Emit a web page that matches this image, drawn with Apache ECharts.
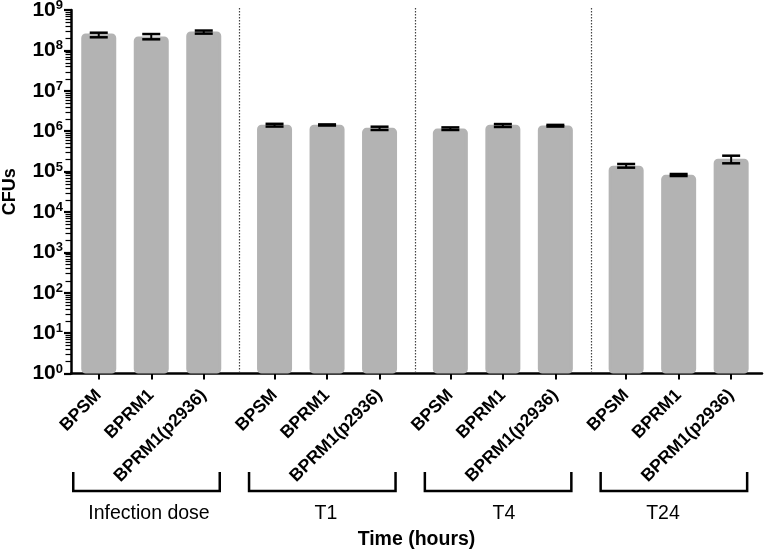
<!DOCTYPE html>
<html><head><meta charset="utf-8">
<script src="https://cdn.jsdelivr.net/npm/echarts@6/dist/echarts.min.js"></script>
<style>html,body{margin:0;padding:0;background:#fff}#c{width:764px;height:554px}</style>
</head><body><div id="c"></div>
<script>
// ---- data ----
const strains = ['BPSM', 'BPRM1', 'BPRM1(p2936)'];
const groupNames = ['Infection dose', 'T1', 'T4', 'T24'];
const xTitle = 'Time (hours)';
const yTitle = 'CFUs';
const yMin = 1, yMax = 1e9;
const yDecades = [1, 10, 100, 1e3, 1e4, 1e5, 1e6, 1e7, 1e8];
const minorMultipliers = [2, 3, 4, 5, 6, 7, 8, 9];

const meanDose = [2.62e8, 2.21e8, 2.93e8];
const lowDose  = [2.11e8, 1.88e8, 2.60e8];
const highDose = [2.74e8, 2.54e8, 3.10e8];

const meanT1 = [1.44e6, 1.44e6, 1.21e6];
const lowT1  = [1.30e6, 1.38e6, 1.07e6];
const highT1 = [1.52e6, 1.47e6, 1.29e6];

const meanT4 = [1.16e6, 1.44e6, 1.38e6];
const lowT4  = [1.07e6, 1.27e6, 1.30e6];
const highT4 = [1.24e6, 1.50e6, 1.43e6];

const meanT24 = [1.39e5, 8.3e4, 2.07e5];
const lowT24  = [1.25e5, 7.76e4, 1.60e5];
const highT24 = [1.54e5, 8.7e4, 2.47e5];

const groupMeans = [meanDose, meanT1, meanT4, meanT24];
const groupLows = [lowDose, lowT1, lowT4, lowT24];
const groupHighs = [highDose, highT1, highT4, highT24];

// ---- layout ----
const FONT = '"Liberation Sans", Arial, Helvetica, sans-serif';
const PLOT_TOP = 10, PLOT_H = 363.5, FRAME_LEFT = 71, FRAME_W = 691;
const GRID_LEFT0 = 72.5, GRID_STEP = 175.8, GRID_W = 157.5;
const groupLabelX = [149, 326, 504, 663];
const BAR_COLOR = '#b3b3b3';

const chart = echarts.init(document.getElementById('c'), null, {renderer: 'canvas'});

const grids = [{left: FRAME_LEFT, top: PLOT_TOP, width: FRAME_W, height: PLOT_H, containLabel: false, outerBoundsMode: 'none'}];
const xAxes = [{
  gridIndex: 0, type: 'value', min: 0, max: 1,
  name: xTitle, nameLocation: 'middle', nameGap: 156,
  nameTextStyle: {fontFamily: FONT, fontWeight: 'bold', fontSize: 19.5, color: '#000'},
  axisLine: {show: true, lineStyle: {color: '#000', width: 2.5}},
  axisTick: {show: false}, axisLabel: {show: false}, splitLine: {show: false}
}];
const yAxes = [{
  gridIndex: 0, type: 'log', logBase: 10, min: yMin, max: yMax, splitNumber: 9,
  name: yTitle, nameLocation: 'middle', nameRotate: 90, nameGap: 52,
  nameTextStyle: {fontFamily: FONT, fontWeight: 'bold', fontSize: 18, color: '#000'},
  axisLine: {show: true, lineStyle: {color: '#000', width: 2.5}},
  axisTick: {show: true, length: 7, lineStyle: {color: '#000', width: 2.2}},
  splitLine: {show: false},
  axisLabel: {
    margin: 8, color: '#000',
    formatter: function (v) { return '{a|10}{b|' + Math.round(Math.log10(v)) + '}'; },
    rich: {
      a: {fontFamily: FONT, fontWeight: 'bold', fontSize: 21, color: '#000', lineHeight: 22},
      b: {fontFamily: FONT, fontWeight: 'bold', fontSize: 13, color: '#000', lineHeight: 13, verticalAlign: 'top'}
    }
  }
}];
const series = [];

// minor ticks of the log axis (2..9 x each decade), placed through the log scale
series.push({
  type: 'custom', xAxisIndex: 0, yAxisIndex: 0, silent: true, z: 5,
  data: yDecades.flatMap(function (d) { return minorMultipliers.map(function (m) { return [0, d * m]; }); }),
  renderItem: function (params, api) {
    const p = api.coord([0, api.value(1)]);
    const y = Math.round(p[1]) + 0.5;
    return {type: 'line', shape: {x1: p[0] - 5.5, y1: y, x2: p[0], y2: y}, style: {stroke: '#000', lineWidth: 1.2}};
  }
});

function renderErr(params, api) {
  const c = api.value(0);
  const hi = api.coord([c, api.value(2)]);
  const lo = api.coord([c, api.value(1)]);
  const hw = 9;
  return {type: 'group', children: [
    {type: 'line', shape: {x1: hi[0], y1: hi[1], x2: lo[0], y2: lo[1]}, style: {stroke: '#000', lineWidth: 2}},
    {type: 'line', shape: {x1: hi[0] - hw, y1: hi[1], x2: hi[0] + hw, y2: hi[1]}, style: {stroke: '#000', lineWidth: 2.5}},
    {type: 'line', shape: {x1: lo[0] - hw, y1: lo[1], x2: lo[0] + hw, y2: lo[1]}, style: {stroke: '#000', lineWidth: 2.5}}
  ]};
}

groupNames.forEach(function (g, i) {
  const gi = i + 1;
  grids.push({left: GRID_LEFT0 + i * GRID_STEP, top: PLOT_TOP, width: GRID_W, height: PLOT_H, containLabel: false, outerBoundsMode: 'none'});
  xAxes.push({
    gridIndex: gi, type: 'category', data: strains,
    axisLine: {show: false},
    axisTick: {show: true, alignWithLabel: true, length: 6, lineStyle: {color: '#000', width: 2}},
    axisLabel: {interval: 0, rotate: 45, margin: 19, fontFamily: FONT, fontWeight: 'bold', fontSize: 17.5, color: '#000'},
    splitLine: {show: false}
  });
  yAxes.push({gridIndex: gi, type: 'log', logBase: 10, min: yMin, max: yMax, show: false, splitLine: {show: false}});
  series.push({
    type: 'bar', name: g, xAxisIndex: gi, yAxisIndex: gi,
    data: groupMeans[i], barWidth: 35,
    itemStyle: {color: BAR_COLOR, borderColor: BAR_COLOR, borderWidth: 3, borderRadius: 3},
    silent: true, z: 2
  });
  series.push({
    type: 'custom', name: g + ' err', xAxisIndex: gi, yAxisIndex: gi,
    renderItem: renderErr, z: 3, silent: true,
    data: strains.map(function (s, k) { return [k, groupLows[i][k], groupHighs[i][k]]; })
  });
});

chart.setOption({
  animation: false,
  backgroundColor: '#fff',
  grid: grids, xAxis: xAxes, yAxis: yAxes, series: series
});

// ---- annotations derived from axis positions ----
const graphics = [];
const ticks = groupNames.map(function (g, i) {
  return [chart.convertToPixel({xAxisIndex: i + 1}, strains[0]),
          chart.convertToPixel({xAxisIndex: i + 1}, strains[strains.length - 1])];
});
const axisY = PLOT_TOP + PLOT_H;
for (let i = 0; i < ticks.length - 1; i++) {
  const x = Math.round((ticks[i][1] + ticks[i + 1][0]) / 2) + 0.5;
  graphics.push({type: 'line', shape: {x1: x, y1: PLOT_TOP - 2, x2: x, y2: axisY - 2},
    style: {stroke: '#444', lineWidth: 1.2, lineDash: [1.5, 1.5]}, z: 1});
}
ticks.forEach(function (t, i) {
  const l = t[0] - 25.5, r = t[1] + 16;
  graphics.push({type: 'polyline', shape: {points: [[l, 472], [l, 491], [r, 491], [r, 472]]},
    style: {stroke: '#000', lineWidth: 2.5, fill: null}});
  graphics.push({type: 'text', x: groupLabelX[i], y: 514,
    style: {text: groupNames[i], fontFamily: FONT, fontSize: 19.5, fill: '#000', align: 'center', verticalAlign: 'middle'}});
});
chart.setOption({graphic: graphics});
</script>
</body></html>
